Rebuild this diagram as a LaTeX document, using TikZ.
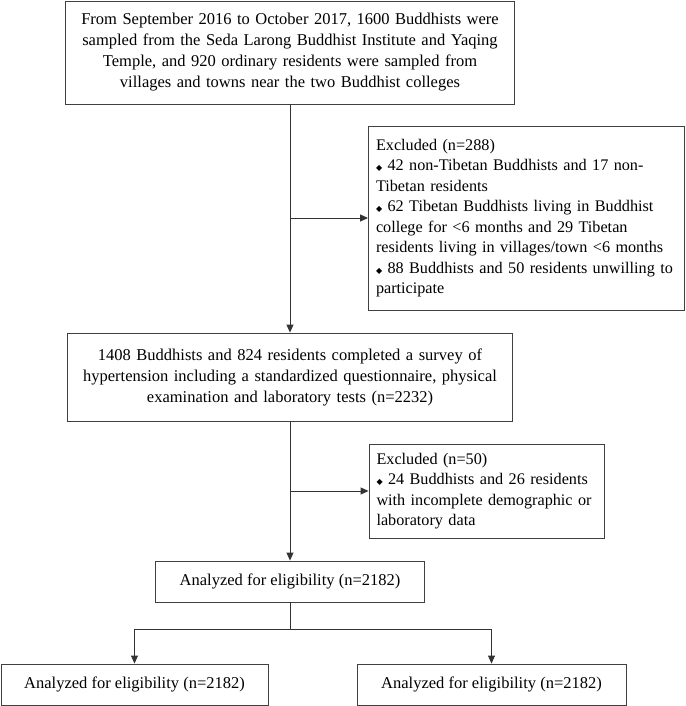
\documentclass[tikz,border=0pt]{standalone}
\usepackage{fontspec}
\setmainfont{Liberation Serif}
\newfontfamily\symbfont{DejaVu Sans}
\usetikzlibrary{arrows.meta}

\newcommand{\dmd}{{\symbfont\fontsize{8}{8}\selectfont ◆}}

\tikzset{
  flowbox/.style={draw=black!75, line width=0.9pt, align=center,
    font=\fontsize{16.5}{21}\selectfont, inner xsep=8pt, inner ysep=0pt},
  exclbox/.style={flowbox, align=left, inner xsep=7.5pt,
    font=\fontsize{16.2}{20.5}\selectfont},
  flowline/.style={draw=black!80, line width=0.9pt},
  flowarrow/.style={flowline, -{Triangle[length=8pt,width=7pt]}},
}

\begin{document}
\begin{tikzpicture}[x=1pt,y=-1pt]

      \useasboundingbox (0,0) rectangle (685,706);

      \begin{scope}[every node/.style={flowbox}]
        \node[text width=433pt, minimum height=103pt] (sample) at (290,52.5)
          {From September 2016 to October 2017, 1600 Buddhists were\\
           sampled from the Seda Larong Buddhist Institute and Yaqing\\
           Temple, and 920 ordinary residents were sampled from\\
           villages and towns near the two Buddhist colleges};
        \node[text width=429pt, minimum height=88pt] (survey) at (290,377)
          {1408 Buddhists and 824 residents completed a survey of\\
           hypertension including a standardized questionnaire, physical\\
           examination and laboratory tests (n=2232)};
        \node[minimum width=269pt, minimum height=41pt] (analyzed) at (290,581.5)
          {Analyzed for eligibility (n=2182)};
        \node[minimum width=267pt, minimum height=41pt] (analyzedL) at (134.5,684.5)
          {Analyzed for eligibility (n=2182)};
        \node[minimum width=269pt, minimum height=41pt] (analyzedR) at (491.5,684.5)
          {Analyzed for eligibility (n=2182)};
      \end{scope}

      \begin{scope}[every node/.style={exclbox}]
        \node[text width=301pt, minimum height=184pt] (excl1) at (526.5,218)
          {Excluded (n=288)\\
           \dmd\ 42 non-Tibetan Buddhists and 17 non-\\
           Tibetan residents\\
           \dmd\ 62 Tibetan Buddhists living in Buddhist\\
           college for <6 months and 29 Tibetan\\
           residents living in villages/town <6 months\\
           \dmd\ 88 Buddhists and 50 residents unwilling~to\\
           participate};
        \node[text width=220pt, minimum height=94pt] (excl2) at (486.5,491)
          {Excluded (n=50)\\
           \dmd\ 24 Buddhists and 26 residents\\
           with incomplete demographic or\\
           laboratory data};
      \end{scope}

      \coordinate (j1) at (sample.south |- excl1.west);
      \coordinate (j2) at (survey.south |- excl2.west);
      \coordinate (split) at (290,629);

      \draw[flowarrow] (sample.south) -- (survey.north);
      \draw[flowarrow] (j1) -- (excl1.west);
      \draw[flowarrow] (survey.south) -- (analyzed.north);
      \draw[flowarrow] (j2) -- (excl2.west);
      \draw[flowline] (analyzed.south) -- (split);
      \draw[flowarrow] (split) -| (analyzedL.north);
      \draw[flowarrow] (split) -| (analyzedR.north);

    \end{tikzpicture}
\end{document}
